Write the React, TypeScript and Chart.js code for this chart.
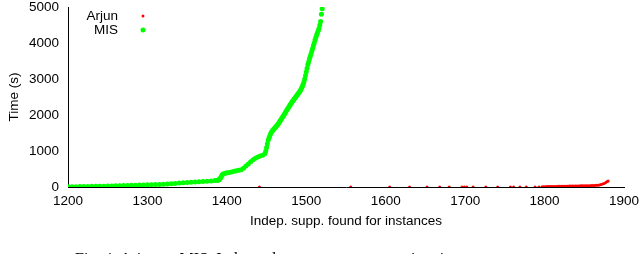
import { useEffect, useRef } from "react";
import { Chart, registerables } from "chart.js";

Chart.register(...registerables);

const seriesNames = ["Arjun", "MIS"];
const xTitle = "Indep. supp. found for instances";
const yTitle = "Time (s)";
const caption = "Fig. 4: Arjun vs MIS: Independent support computation time";

const xTicks = [1200, 1300, 1400, 1500, 1600, 1700, 1800, 1900];
const yTicks = [0, 1000, 2000, 3000, 4000, 5000];

const misX = [
  1200, 1205, 1210, 1215, 1220, 1225, 1230, 1235, 1240, 1245, 1250, 1255, 1260, 1265,
  1270, 1275, 1280, 1285, 1290, 1295, 1300, 1305, 1310, 1315, 1320, 1325, 1330, 1335,
  1340, 1345, 1350, 1355, 1360, 1365, 1370, 1375, 1380, 1385, 1388, 1389, 1390, 1391,
  1392, 1393, 1394, 1395, 1396, 1398, 1400, 1403, 1406, 1409, 1412, 1415, 1418, 1421,
  1424, 1427, 1430, 1433, 1436, 1439, 1442, 1445, 1448, 1449, 1450, 1451, 1452, 1453,
  1454, 1455, 1456, 1457, 1458, 1459, 1460, 1461, 1462, 1463, 1464, 1465, 1466, 1467,
  1468, 1469, 1470, 1471, 1472, 1473, 1474, 1475, 1476, 1477, 1478, 1479, 1480, 1481,
  1482, 1483, 1484, 1485, 1486, 1487, 1488, 1489, 1490, 1491, 1492, 1493, 1494, 1495,
  1496, 1497, 1498, 1499, 1500, 1501, 1502, 1503, 1504, 1505, 1506, 1507, 1508, 1509,
  1510, 1511, 1512, 1513, 1514, 1515, 1516, 1517, 1518, 1519, 1520,
];
const misY = [
  5, 8, 10, 12, 14, 16, 18, 20, 22, 24, 27, 30, 33, 36,
  40, 43, 47, 50, 54, 57, 60, 64, 68, 72, 77, 82, 88, 94,
  110, 117, 125, 132, 140, 147, 155, 162, 170, 178, 185, 190, 200, 225,
  250, 290, 330, 355, 370, 385, 395, 405, 420, 435, 450, 465, 480, 520,
  580, 640, 700, 760, 800, 835, 860, 885, 930, 1000, 1100, 1200, 1300, 1360,
  1420, 1470, 1520, 1550, 1580, 1605, 1630, 1655, 1680, 1705, 1730, 1765, 1800, 1835,
  1870, 1905, 1940, 1975, 2010, 2045, 2080, 2115, 2150, 2185, 2220, 2255, 2290, 2325,
  2360, 2390, 2420, 2450, 2480, 2510, 2540, 2570, 2600, 2630, 2660, 2700, 2740, 2790,
  2850, 2920, 3000, 3100, 3200, 3300, 3400, 3480, 3560, 3630, 3700, 3780, 3850, 3930,
  4000, 4080, 4150, 4220, 4280, 4340, 4400, 4500, 4600, 4800, 4950,
];

const arjunX = [
  1441, 1556, 1605, 1630, 1652, 1668, 1680, 1696, 1699, 1702, 1710, 1726, 1741, 1757,
  1761, 1769, 1777, 1788, 1793, 1797, 1799, 1801, 1803, 1805, 1807, 1809, 1811, 1813,
  1815, 1817, 1819, 1821, 1823, 1825, 1827, 1829, 1831, 1833, 1835, 1837, 1839, 1841,
  1843, 1845, 1847, 1849, 1851, 1853, 1855, 1857, 1859, 1861, 1863, 1865, 1867, 1869,
  1871, 1873, 1875, 1877, 1879, 1880,
];
const arjunY = [
  2, 2, 2, 2, 2, 2, 2, 2, 2, 2, 2, 2, 2, 2,
  2, 2, 2, 2, 3, 6, 8, 10, 11, 12, 13, 14, 15, 16,
  17, 18, 19, 20, 21, 22, 23, 24, 25, 26, 27, 28, 29, 30,
  31, 32, 33, 34, 35, 36, 37, 38, 40, 42, 44, 47, 52, 58,
  66, 80, 100, 125, 150, 165,
];

const seriesColors = ["#ff0000", "#00ff00"];
const FONT = "'Liberation Sans', Arial, sans-serif";

export default function App() {
  const ref = useRef<HTMLCanvasElement>(null);

  useEffect(() => {
    if (!ref.current) return;
    const toPts = (xs: number[], ys: number[]) => xs.map((x, i) => ({ x, y: ys[i] }));

    const legendPlugin = {
      id: "gnuLegend",
      afterDraw(chart: any) {
        const { ctx, chartArea } = chart;
        ctx.save();
        ctx.font = `13.5px ${FONT}`;
        ctx.textAlign = "right";
        ctx.textBaseline = "middle";
        const rows = [chartArea.top + 9, chartArea.top + 23];
        const radii = [1.5, 2.5];
        chart.data.datasets.forEach((ds: any, i: number) => {
          ctx.fillStyle = "#000";
          ctx.fillText(ds.label, chartArea.left + 50, rows[i]);
          ctx.beginPath();
          ctx.fillStyle = ds.backgroundColor;
          ctx.arc(chartArea.left + 75, rows[i], radii[i], 0, Math.PI * 2);
          ctx.fill();
        });
        ctx.restore();
      },
    };

    const chart = new Chart(ref.current, {
      type: "scatter",
      data: {
        datasets: [
          {
            label: seriesNames[0],
            data: toPts(arjunX, arjunY),
            backgroundColor: seriesColors[0],
            pointRadius: 1.5,
            pointBorderWidth: 0,
            borderWidth: 0,
          },
          {
            label: seriesNames[1],
            data: toPts(misX, misY),
            backgroundColor: seriesColors[1],
            pointRadius: 2.5,
            pointBorderWidth: 0,
            borderWidth: 0,
          },
        ],
      },
      options: {
        animation: false,
        responsive: false,
        layout: { padding: 0 },
        plugins: { legend: { display: false }, tooltip: { enabled: false } },
        scales: {
          x: {
            type: "linear",
            min: 1200,
            max: 1900,
            afterBuildTicks: (s: any) => {
              s.ticks = xTicks.map((v) => ({ value: v }));
            },
            afterFit: (s: any) => {
              s.height = 67;
              s.paddingLeft = 0;
              s.paddingRight = 16;
            },
            grid: { display: false, drawTicks: false },
            border: { display: true, color: "#000", width: 1 },
            ticks: {
              padding: 6,
              color: "#000",
              font: { family: FONT, size: 13.5 },
              maxRotation: 0,
              autoSkip: false,
              callback: (v: any) => String(v),
            },
            title: {
              display: true,
              text: xTitle,
              color: "#000",
              font: { family: FONT, size: 13.5 },
              padding: { top: 0, bottom: 25 },
            },
          },
          y: {
            type: "linear",
            min: 0,
            max: 5000,
            afterBuildTicks: (s: any) => {
              s.ticks = yTicks.map((v) => ({ value: v }));
            },
            afterFit: (s: any) => {
              s.width = 68;
              s.paddingTop = 7;
              s.paddingBottom = 0;
            },
            grid: { display: false, drawTicks: false },
            border: { display: true, color: "#000", width: 1 },
            ticks: {
              padding: 9,
              color: "#000",
              font: { family: FONT, size: 13.5 },
              autoSkip: false,
              callback: (v: any) => String(v),
            },
            title: {
              display: true,
              text: yTitle,
              color: "#000",
              font: { family: FONT, size: 13.5 },
              padding: { top: 6, bottom: 0 },
            },
          },
        },
      },
      plugins: [legendPlugin],
    });
    return () => chart.destroy();
  }, []);

  return (
    <div
      style={{
        position: "fixed",
        left: 0,
        top: 0,
        width: 640,
        height: 254,
        overflow: "hidden",
        background: "#fff",
      }}
    >
      <canvas ref={ref} width={640} height={254} style={{ display: "block" }} />
      <div
        style={{
          position: "absolute",
          left: 75,
          top: 251,
          fontFamily: "'Liberation Serif', serif",
          fontSize: 16,
          lineHeight: "16px",
          whiteSpace: "nowrap",
          color: "#000",
        }}
      >
        {caption}
      </div>
    </div>
  );
}
